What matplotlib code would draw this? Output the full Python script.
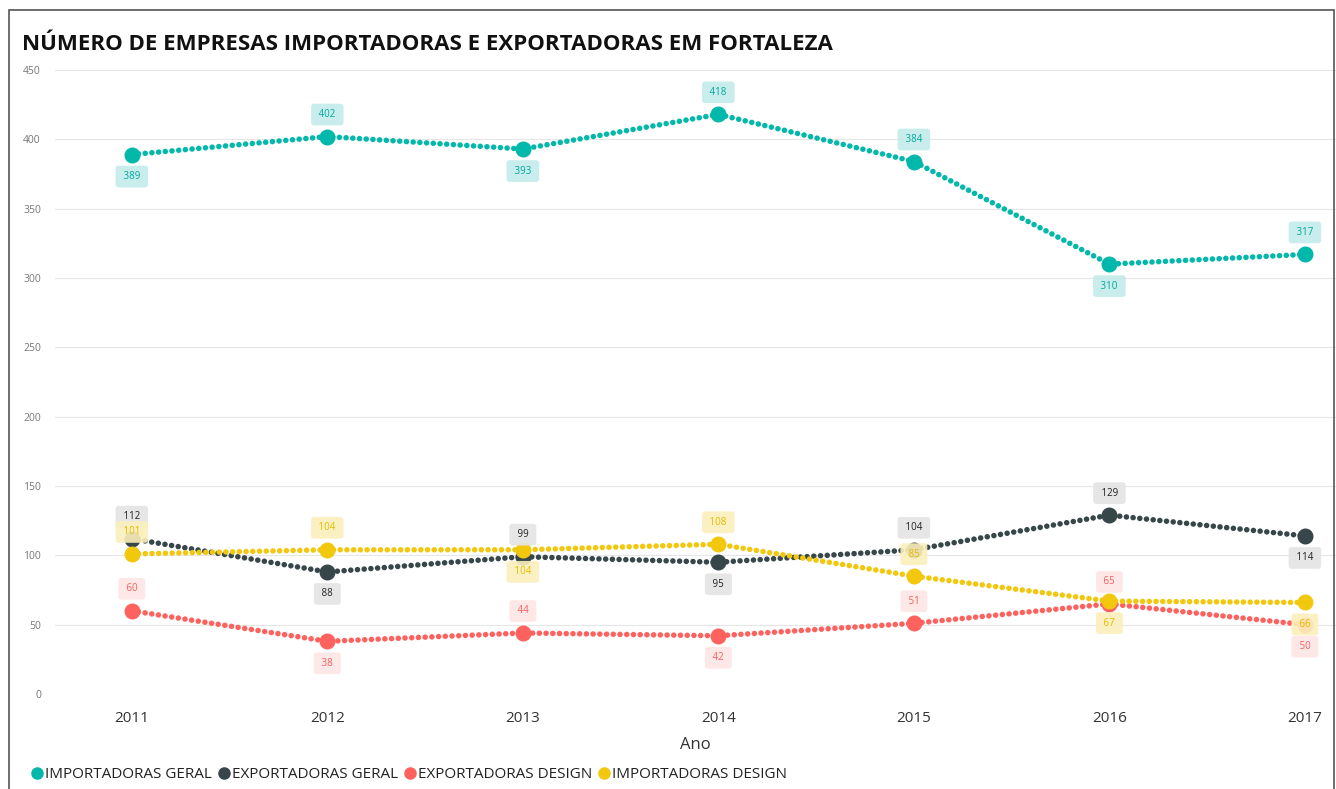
import matplotlib
matplotlib.use("Agg")
import matplotlib.pyplot as plt
from matplotlib.patches import Rectangle
from matplotlib.lines import Line2D

years = [2011, 2012, 2013, 2014, 2015, 2016, 2017]
imp_geral = [389, 402, 393, 418, 384, 310, 317]
exp_geral = [112, 88, 99, 95, 104, 129, 114]
exp_design = [60, 38, 44, 42, 51, 65, 50]
imp_design = [101, 104, 104, 108, 85, 67, 66]

# label position: +1 above, -1 below
pos_imp_geral = [-1, 1, -1, 1, 1, -1, 1]
pos_exp_geral = [1, -1, 1, -1, 1, 1, -1]
pos_exp_design = [1, -1, 1, -1, 1, 1, -1]
pos_imp_design = [1, 1, -1, 1, 1, -1, -1]

series = [
    ("IMPORTADORAS GERAL", imp_geral, pos_imp_geral, "#01B8AA", "#01A89B", "#c2ecea"),
    ("EXPORTADORAS GERAL", exp_geral, pos_exp_geral, "#374649", "#222222", "#e4e4e4"),
    ("EXPORTADORAS DESIGN", exp_design, pos_exp_design, "#FD625E", "#F5605C", "#fee6e5"),
    ("IMPORTADORAS DESIGN", imp_design, pos_imp_design, "#F2C80F", "#E5BC00", "#fbefbb"),
]

plt.rcParams['font.family'] = ['Open Sans', 'DejaVu Sans']

fig = plt.figure(figsize=(13.36, 7.89), dpi=100)
ax = fig.add_axes([0.041, 0.1204, 0.959, 0.7909])

for name, vals, pos, col, tcol, bg in series:
    ax.plot(years, vals, color=col, linewidth=4, linestyle=(0, (0.01, 1.2)),
            dash_capstyle='round', zorder=3)
    ax.plot(years, vals, linestyle='none', marker='o', markersize=10.5,
            color=col, zorder=4)
    for x, v, p in zip(years, vals, pos):
        ax.annotate(" " + str(v) + " ", (x, v), xytext=(0, 22 * p), textcoords='offset pixels',
                    ha='center', va='center', fontsize=7, color=tcol, zorder=5,
                    bbox=dict(boxstyle='round,pad=0.55,rounding_size=0.3', fc=bg, ec='none', alpha=0.9))

ax.set_xlim(2010.606, 2017.159)
ax.set_ylim(0, 450)
ax.set_yticks(range(0, 451, 50))
ax.set_xticks(years)
ax.set_xticklabels([str(y) for y in years], fontsize=11, color='#333333')
ax.tick_params(axis='y', labelsize=7.5, labelcolor='#777777', length=0, pad=10)
ax.tick_params(axis='x', length=0, pad=12)
ax.grid(axis='y', color='#e6e6e6', linewidth=0.8)
ax.set_axisbelow(True)
for s in ax.spines.values():
    s.set_visible(False)
ax.set_xlabel("Ano", fontsize=12, color='#333333', labelpad=8)

fig.text(0.0165, 0.944, "NÚMERO DE EMPRESAS IMPORTADORAS E EXPORTADORAS EM FORTALEZA",
         fontsize=16, fontweight='bold', color='#111111', va='center', ha='left')

handles = [Line2D([], [], linestyle='none', marker='o', markersize=8, color=s[3]) for s in series]
fig.legend(handles, [s[0] for s in series], loc='center left', bbox_to_anchor=(0.012, 0.018),
           ncol=4, frameon=False, fontsize=11, handletextpad=0.0, columnspacing=0.3,
           handlelength=1.0, labelcolor='#222222')

fig.patches.append(Rectangle((0.0067, -0.01), 0.992, 0.997, transform=fig.transFigure,
                             fill=False, ec='#555555', lw=1.2))

fig.savefig("out.png", dpi=100)
